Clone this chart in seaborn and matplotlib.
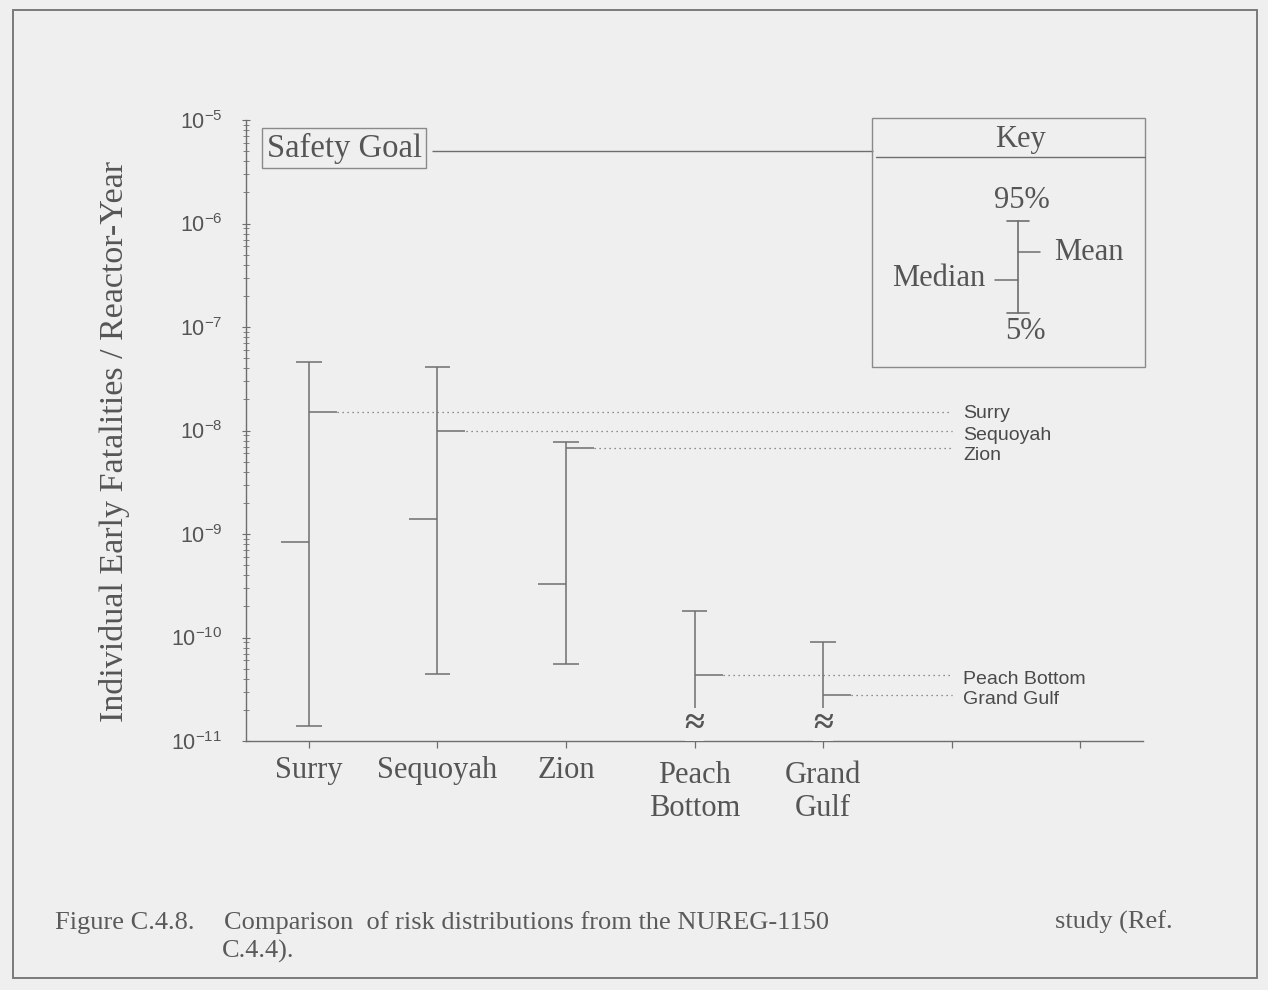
import numpy as np
import pandas as pd
import matplotlib
matplotlib.use("Agg")
import matplotlib.pyplot as plt
import seaborn as sns
from matplotlib.path import Path
from matplotlib.lines import Line2D
from matplotlib.patches import Rectangle
from matplotlib.ticker import LogLocator, LogFormatterSciNotation, NullFormatter, FixedLocator

# ---------------- data ----------------
plants = ["Surry", "Sequoyah", "Zion", "Peach\nBottom", "Grand\nGulf"]
right_labels = ["Surry", "Sequoyah", "Zion", "Peach Bottom", "Grand Gulf"]
p95 = [4.6e-8, 4.1e-8, 7.8e-9, 1.8e-10, 9.1e-11]
mean = [1.5e-8, 1.0e-8, 6.8e-9, 4.3e-11, 2.8e-11]
median = [8.3e-10, 1.4e-9, 3.3e-10, np.nan, np.nan]
p5 = [1.4e-11, 4.4e-11, 5.5e-11, np.nan, np.nan]   # nan = below scale (broken)
safety_goal = 5.0e-6
y_min, y_max = 1e-11, 1e-5

BG = "#efefef"
LC = "#6e6e6e"
TC = "#555555"
SERIF = "Liberation Serif"
SANS = "Liberation Sans"

sns.set_theme(style="white", rc={"axes.facecolor": BG, "figure.facecolor": BG})
plt.rcParams["font.family"] = [SERIF, "DejaVu Serif"]
plt.rcParams["mathtext.fontset"] = "custom"
plt.rcParams["mathtext.rm"] = SANS
plt.rcParams["mathtext.it"] = SANS

W, H = 1268, 990
fig = plt.figure(figsize=(W / 100, H / 100), dpi=100)


def fx(x):
    return x / W


def fy(y):
    return 1 - y / H


ax = fig.add_axes([fx(246), fy(741), (1143 - 246) / W, (741 - 120) / H])
ax.set_facecolor(BG)

df = pd.DataFrame({"x": np.arange(len(plants)), "plant": plants, "p95": p95,
                   "mean": mean, "median": median, "p5": p5})

# vertical ranges
lower = df["p5"].fillna(y_min)
ax.vlines(df["x"], lower, df["p95"], color=LC, lw=1.1, zorder=2)
# caps
cap = 0.1
ax.hlines(df["p95"], df["x"] - cap, df["x"] + cap, color=LC, lw=1.1, zorder=2)
ok = df["p5"].notna()
ax.hlines(df.loc[ok, "p5"], df.loc[ok, "x"] - cap, df.loc[ok, "x"] + cap, color=LC, lw=1.1, zorder=2)

# mean (tick to the right) and median (tick to the left)
right_tick = Path([(0, 0), (1, 0)], [Path.MOVETO, Path.LINETO])
left_tick = Path([(-1, 0), (0, 0)], [Path.MOVETO, Path.LINETO])
sns.scatterplot(data=df, x="x", y="mean", marker=right_tick, s=1600,
                color=LC, edgecolor=LC, linewidth=1.1, ax=ax, zorder=3, legend=False)
sns.scatterplot(data=df.dropna(subset=["median"]), x="x", y="median", marker=left_tick, s=1600,
                color=LC, edgecolor=LC, linewidth=1.1, ax=ax, zorder=3, legend=False)

# dotted guide lines from mean to the right-hand labels
offs = [-1, -5, -8, -4, -5]
for i, (m, lab) in enumerate(zip(mean, right_labels)):
    ax.hlines(m, i + 0.22, 5.0, color=LC, lw=0.9, linestyles=(0, (1, 3)), zorder=1)
    ax.annotate(lab, xy=(5.09, m), xycoords="data", xytext=(0, offs[i] * 0.72),
                textcoords="offset points", ha="left", va="center",
                fontsize=14, color="#4a4a4a", family=SANS)

# break symbols for off-scale lower ends
for i in range(len(plants)):
    if np.isnan(p5[i]):
        ax.text(i, 1.45e-11, "≈", ha="center", va="center", fontsize=26, fontweight="bold",
                color="#555555", family=SERIF, zorder=4,
                bbox=dict(boxstyle="square,pad=0.0", fc=BG, ec="none"))

# safety goal
ax.hlines(safety_goal, 0.96, 4.39, color=LC, lw=1.0, zorder=1)
ax.text(-0.33, safety_goal * 1.07, "Safety Goal", ha="left", va="center", fontsize=23.5,
        color=TC, family=SERIF,
        bbox=dict(boxstyle="square,pad=0.14", fc="none", ec="#8a8a8a", lw=1.0))

# axes styling
ax.set_yscale("log")
ax.set_ylim(y_min, y_max)
ax.set_xlim(-0.49, 6.49)
ax.yaxis.set_major_locator(LogLocator(base=10, numticks=10))
ax.yaxis.set_major_formatter(LogFormatterSciNotation())
ax.yaxis.set_minor_locator(LogLocator(base=10, subs=np.arange(2, 10), numticks=100))
ax.yaxis.set_minor_formatter(NullFormatter())
ax.xaxis.set_major_locator(FixedLocator(range(7)))
ax.set_xticklabels(plants + ["", ""])
ax.tick_params(axis="x", which="major", direction="out", length=5, width=0.9, color=LC,
               pad=6, labelsize=22, labelcolor=TC)
ax.tick_params(axis="y", which="major", direction="inout", length=6, width=0.8, color=LC,
               pad=14, labelsize=15.5, labelcolor=TC)
ax.tick_params(axis="y", which="minor", direction="inout", length=4, width=0.6, color=LC, left=True)
ax.tick_params(axis="y", left=True)
ax.tick_params(axis="x", bottom=True)
for lab in ax.get_xticklabels():
    lab.set_family(SERIF)
    if "\n" in lab.get_text():
        lab.set_linespacing(1.15)
        lab.set_y(-0.008)
for lab in ax.get_yticklabels():
    lab.set_family(SANS)
for s in ["top", "right"]:
    ax.spines[s].set_visible(False)
for s in ["left", "bottom"]:
    ax.spines[s].set_color(LC)
    ax.spines[s].set_linewidth(1.0)
ax.set_xlabel("")
ax.set_ylabel("")
ax.grid(False)

# y label
fig.text(fx(114), fy(442), "Individual Early Fatalities / Reactor-Year", rotation=90,
         ha="center", va="center", fontsize=24.5, color=TC, family=SERIF)

# ---------------- key box ----------------
kc = "#8a8a8a"
fig.add_artist(Rectangle((fx(872), fy(367)), (1145 - 872) / W, (367 - 118) / H,
                         transform=fig.transFigure, fill=False, ec=kc, lw=1.0))
fig.add_artist(Line2D([fx(876), fx(1145)], [fy(157), fy(157)], transform=fig.transFigure, color=LC, lw=1.0))
fig.text(fx(1020), fy(140), "Key", ha="center", va="center", fontsize=22, color=TC, family=SERIF)
kx = 1018
fig.add_artist(Line2D([fx(kx), fx(kx)], [fy(221), fy(313)], transform=fig.transFigure, color=LC, lw=1.2))
fig.add_artist(Line2D([fx(kx - 11), fx(kx + 11)], [fy(221), fy(221)], transform=fig.transFigure, color=LC, lw=1.2))
fig.add_artist(Line2D([fx(kx - 11), fx(kx + 11)], [fy(313), fy(313)], transform=fig.transFigure, color=LC, lw=1.2))
fig.add_artist(Line2D([fx(kx), fx(kx + 22)], [fy(252), fy(252)], transform=fig.transFigure, color=LC, lw=1.1))
fig.add_artist(Line2D([fx(kx - 23), fx(kx)], [fy(280), fy(280)], transform=fig.transFigure, color=LC, lw=1.1))
fig.text(fx(1022), fy(200), "95%", ha="center", va="center", fontsize=22, color=TC, family=SERIF)
fig.text(fx(1025), fy(332), "5%", ha="center", va="center", fontsize=22, color=TC, family=SERIF)
fig.text(fx(1054), fy(253), "Mean", ha="left", va="center", fontsize=22, color=TC, family=SERIF)
fig.text(fx(985), fy(278), "Median", ha="right", va="center", fontsize=22, color=TC, family=SERIF)

# ---------------- caption and page frame ----------------
cap_kw = dict(fontsize=19, color="#5a5a5a", family=SERIF, va="baseline")
fig.text(fx(55), fy(929), "Figure C.4.8.", ha="left", **cap_kw)
fig.text(fx(224), fy(929), "Comparison  of risk distributions from the NUREG-1150", ha="left", **cap_kw)
fig.text(fx(1055), fy(929), "study (Ref.", ha="left", **cap_kw)
fig.text(fx(222), fy(958), "C.4.4).", ha="left", **cap_kw)

fig.add_artist(Rectangle((fx(13), fy(978)), (1257 - 13) / W, (978 - 10) / H,
                         transform=fig.transFigure, fill=False, ec="#7a7a7a", lw=1.4))

fig.savefig("out.png", dpi=100, facecolor=BG)
